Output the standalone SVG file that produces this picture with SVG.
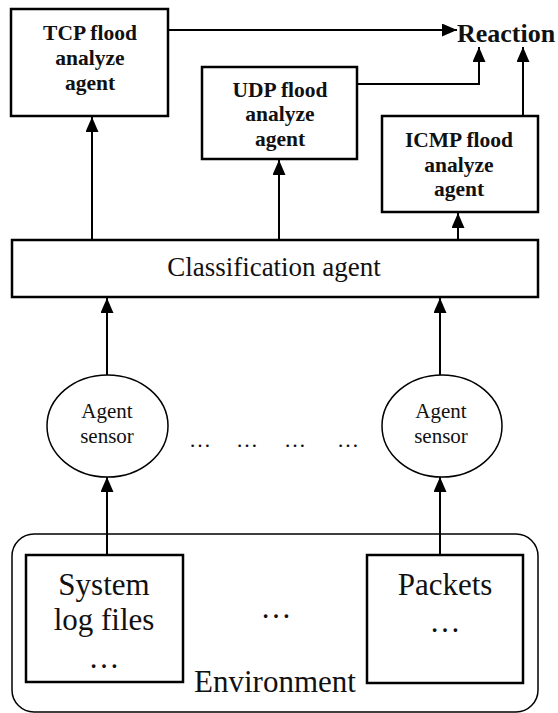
<svg xmlns="http://www.w3.org/2000/svg" width="558" height="713" viewBox="0 0 558 713">
<style>
.box{fill:#fff;stroke:#000;stroke-width:2.5}
.thin{fill:#fff;stroke:#000;stroke-width:1.5}
.con{fill:none;stroke:#000;stroke-width:2}
.b{font-family:"Liberation Serif","Times New Roman",serif;font-weight:bold;font-size:21.5px;fill:#111;text-anchor:middle}
.r{font-family:"Liberation Serif","Times New Roman",serif;fill:#111;text-anchor:middle}
.rx{font-family:"Liberation Serif","Times New Roman",serif;font-weight:bold;font-size:26px;fill:#111;text-anchor:middle}
</style>
<defs>
<marker id="ah" markerUnits="userSpaceOnUse" markerWidth="16" markerHeight="14" refX="15" refY="6.5" orient="auto">
<path d="M0,0 L15,6.5 L0,13 Z" fill="#000"/>
</marker>
</defs>
<rect width="558" height="713" fill="#fff"/>
<g id="environment">
<rect class="thin" x="12" y="534" width="526" height="178" rx="22" ry="22"/>
<text class="r" x="275" y="692" font-size="31">Environment</text>
<text class="r" x="276" y="618" font-size="31">…</text>
</g>
<g id="syslog">
<rect class="box" x="26" y="555" width="157" height="127"/>
<text class="r" x="104" y="595" font-size="31">System</text>
<text class="r" x="104" y="630" font-size="31">log files</text>
<text class="r" x="104" y="668" font-size="31">…</text>
</g>
<g id="packets">
<rect class="box" x="367" y="555" width="156" height="128"/>
<text class="r" x="445" y="595" font-size="31">Packets</text>
<text class="r" x="445" y="632" font-size="31">…</text>
</g>
<g id="sensor1">
<ellipse class="thin" cx="107.5" cy="426" rx="60.5" ry="51"/>
<text class="r" x="107" y="418" font-size="21">Agent</text>
<text class="r" x="107" y="443" font-size="21">sensor</text>
</g>
<g id="sensor2">
<ellipse class="thin" cx="442" cy="426" rx="60" ry="51"/>
<text class="r" x="441" y="418" font-size="21">Agent</text>
<text class="r" x="441" y="443" font-size="21">sensor</text>
</g>
<g id="dots">
<text class="r" x="200" y="447" font-size="22">…</text>
<text class="r" x="247" y="447" font-size="22">…</text>
<text class="r" x="295" y="447" font-size="22">…</text>
<text class="r" x="348" y="447" font-size="22">…</text>
</g>
<g id="classification">
<rect class="box" x="12" y="240" width="526" height="57"/>
<text class="r" x="274" y="276" font-size="27">Classification agent</text>
</g>
<g id="tcp">
<rect class="box" x="11" y="9" width="157" height="107"/>
<text class="b" x="90" y="40">TCP flood</text>
<text class="b" x="90" y="65">analyze</text>
<text class="b" x="90" y="90">agent</text>
</g>
<g id="udp">
<rect class="box" x="202" y="67" width="155" height="92"/>
<text class="b" x="280" y="97">UDP flood</text>
<text class="b" x="280" y="121">analyze</text>
<text class="b" x="280" y="146">agent</text>
</g>
<g id="icmp">
<rect class="box" x="382" y="116" width="156" height="96"/>
<text class="b" x="459" y="147">ICMP flood</text>
<text class="b" x="459" y="172">analyze</text>
<text class="b" x="459" y="196">agent</text>
</g>
<g id="reaction">
<text class="rx" x="506" y="42">Reaction</text>
</g>
<g id="connectors">
<path class="con" d="M168,30 H457" marker-end="url(#ah)"/>
<path class="con" d="M357,84 H479 V47" marker-end="url(#ah)"/>
<path class="con" d="M523,116 V47" marker-end="url(#ah)"/>
<path class="con" d="M92,240 V117" marker-end="url(#ah)"/>
<path class="con" d="M279,240 V160" marker-end="url(#ah)"/>
<path class="con" d="M458,240 V213" marker-end="url(#ah)"/>
<path class="con" d="M107,375 V298" marker-end="url(#ah)"/>
<path class="con" d="M440,375 V298" marker-end="url(#ah)"/>
<path class="con" d="M107,555 V477" marker-end="url(#ah)"/>
<path class="con" d="M440,555 V477" marker-end="url(#ah)"/>
</g>
</svg>
